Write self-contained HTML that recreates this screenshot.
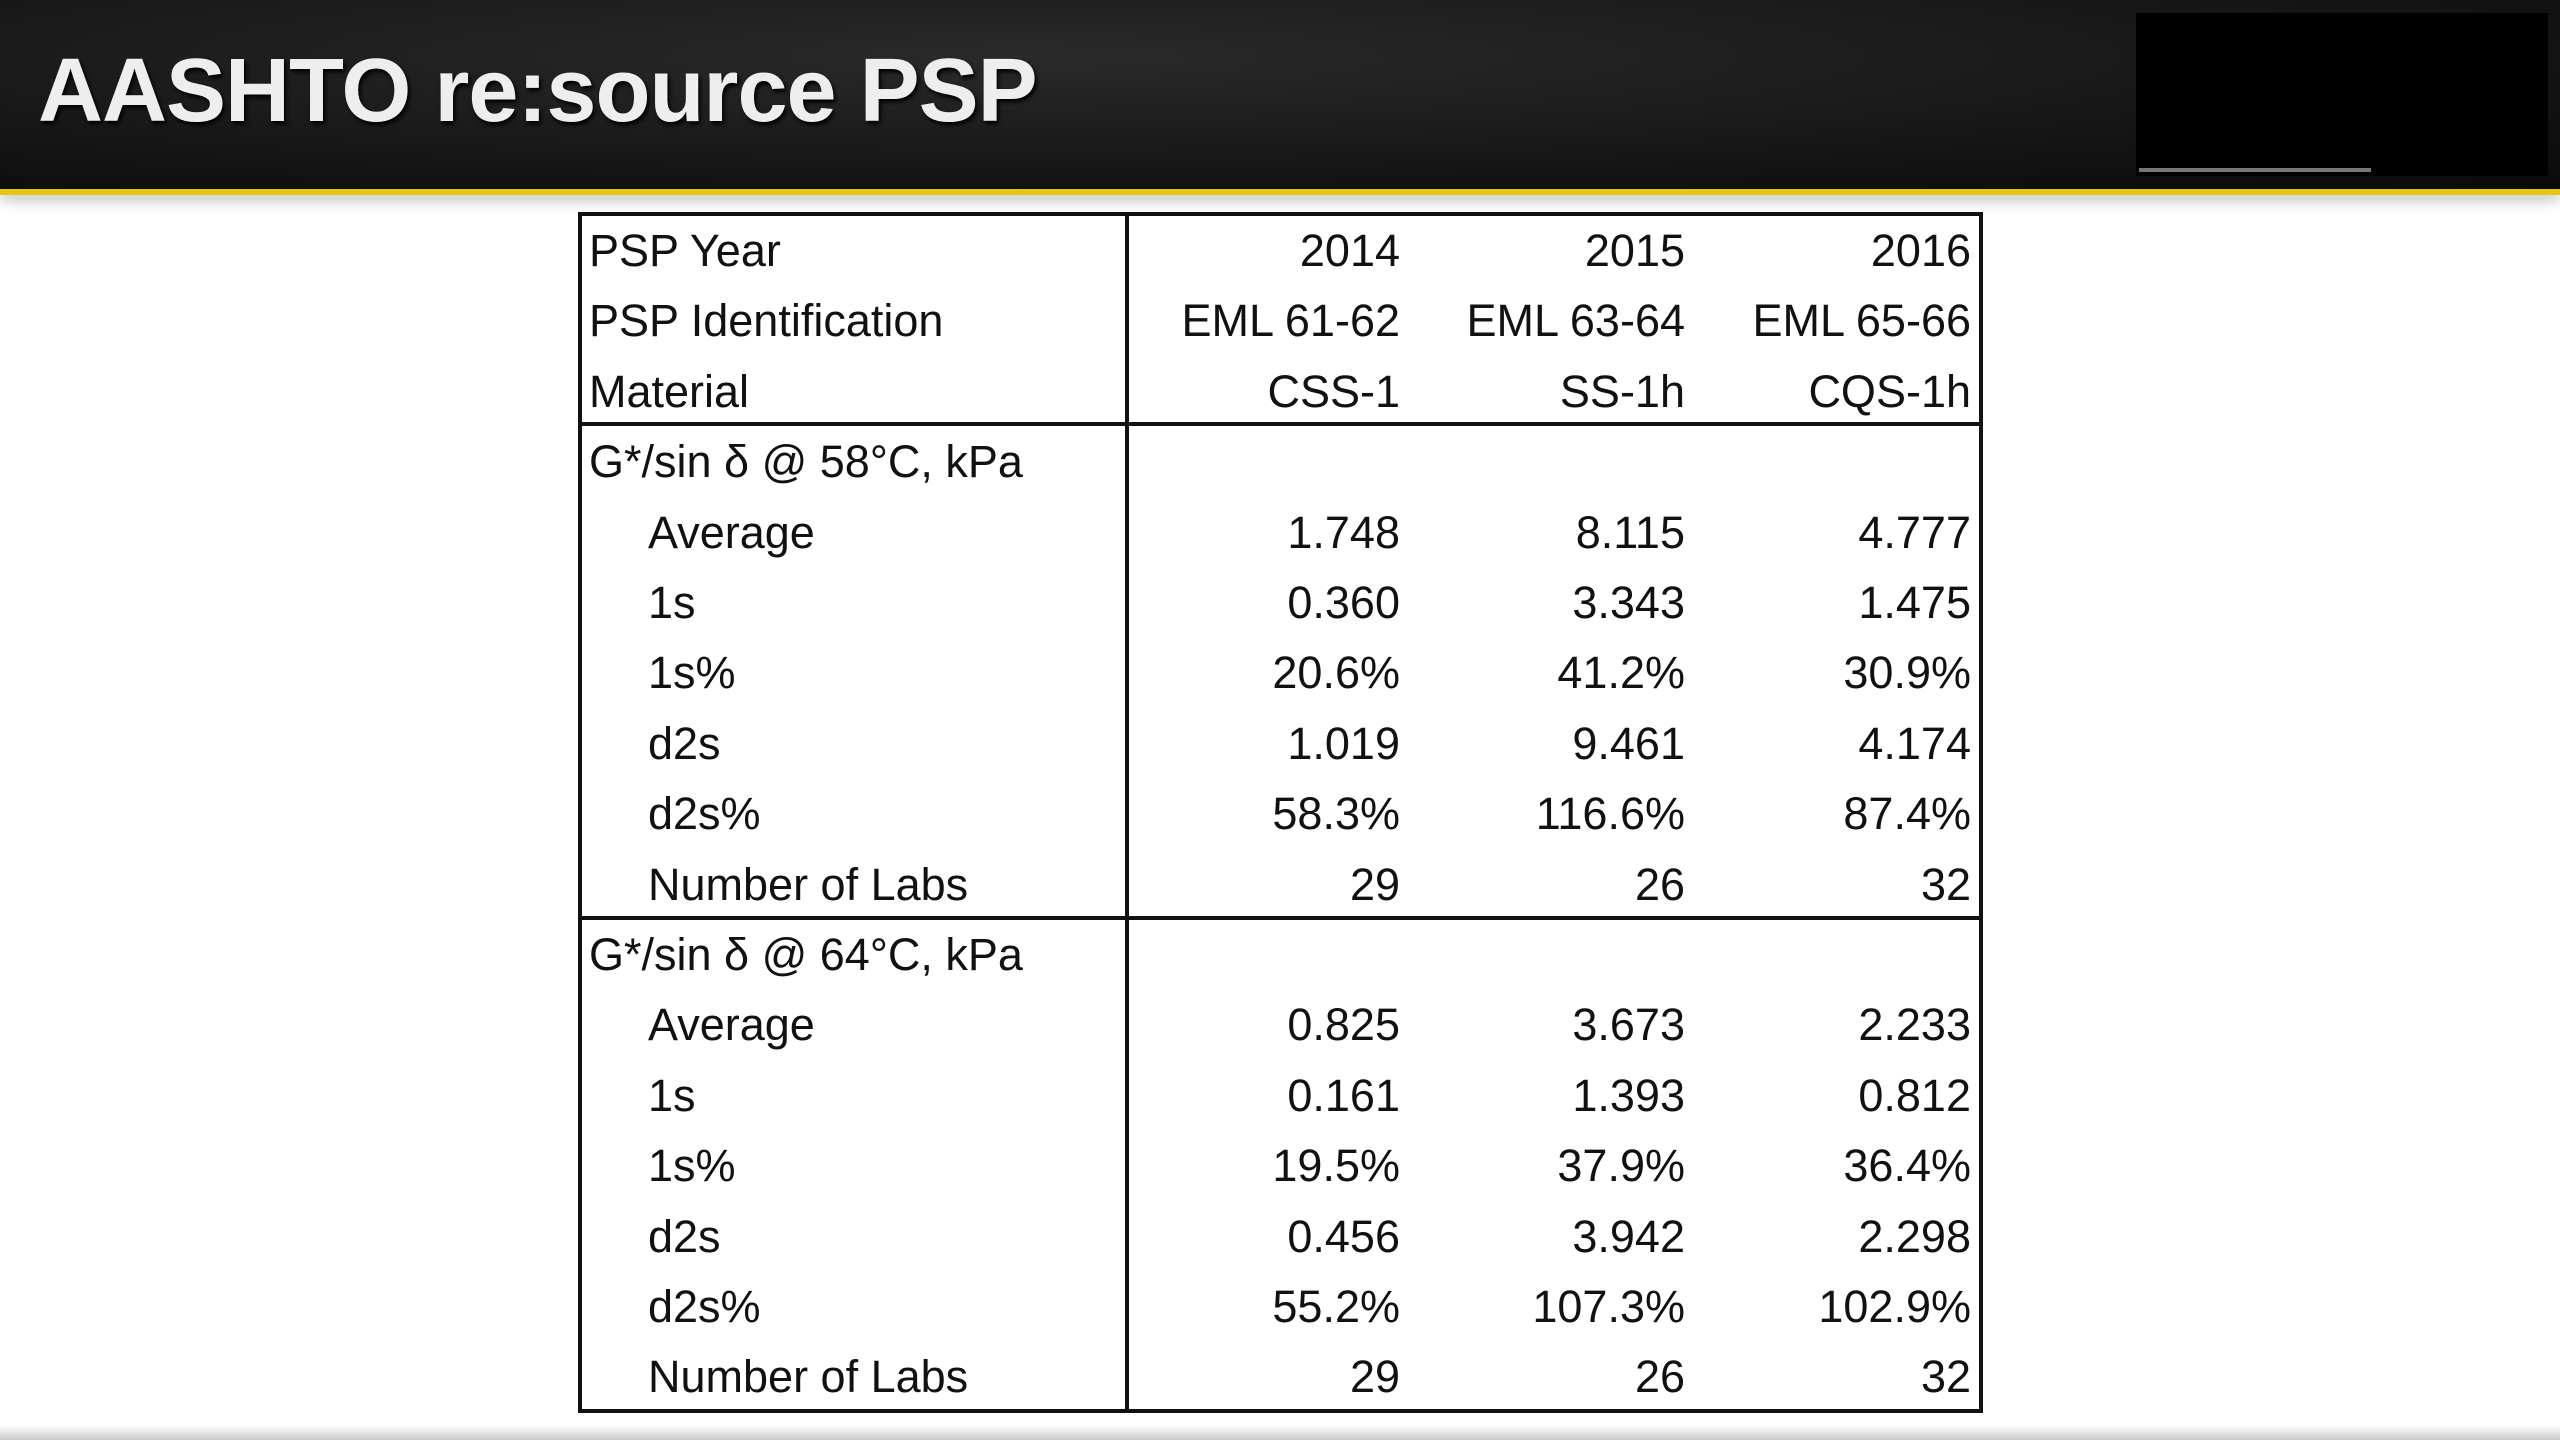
<!DOCTYPE html>
<html><head><meta charset="utf-8"><style>
*{margin:0;padding:0;box-sizing:border-box}
body{width:2560px;height:1440px;position:relative;overflow:hidden;background:#fff;font-family:"Liberation Sans",sans-serif}
#hdr{position:absolute;left:0;top:0;width:2560px;height:189px;background:radial-gradient(ellipse at 40% 30%,#2a2a2a,#131313 70%,#0b0b0b)}
#yl{position:absolute;left:0;top:189px;width:2560px;height:6px;background:#e8c413;box-shadow:0 3px 14px rgba(0,0,0,.45)}
#title{position:absolute;left:38px;top:40px;font-size:90px;font-weight:bold;color:#eee;letter-spacing:-1px;text-shadow:2px 3px 4px #000;white-space:nowrap}
#box{position:absolute;left:2136px;top:13px;width:412px;height:163px;background:#000}
#boxline{position:absolute;left:2139px;top:168px;width:232px;height:4px;background:#777}
#tbl{position:absolute;left:578px;top:212px;width:1405px;height:1201px;border:4px solid #111}
.v{position:absolute;background:#111}
.t{position:absolute;font-size:45px;color:#111;white-space:nowrap;line-height:50px}
.r{text-align:right;width:320px}
#foot{position:absolute;left:0;top:1425px;width:2560px;height:15px;background:linear-gradient(#fff,#ccc)}
</style></head><body>
<div id="hdr"></div>
<div id="yl"></div>
<div id="title">AASHTO re:source PSP</div>
<div id="box"></div>
<div id="boxline"></div>
<div id="tbl"></div>
<div class="v" style="left:1125px;top:212px;width:4px;height:1201px"></div>
<div class="v" style="left:578px;top:422px;width:1405px;height:4px"></div>
<div class="v" style="left:578px;top:916px;width:1405px;height:4px"></div>
<div id="foot"></div>
<script>
const labels=["PSP Year","PSP Identification","Material","G*/sin δ @ 58°C, kPa","Average","1s","1s%","d2s","d2s%","Number of Labs","G*/sin δ @ 64°C, kPa","Average","1s","1s%","d2s","d2s%","Number of Labs"];
const indent=[0,0,0,0,1,1,1,1,1,1,0,1,1,1,1,1,1];
const col2014=["2014","EML 61-62","CSS-1","","1.748","0.360","20.6%","1.019","58.3%","29","","0.825","0.161","19.5%","0.456","55.2%","29"];
const col2015=["2015","EML 63-64","SS-1h","","8.115","3.343","41.2%","9.461","116.6%","26","","3.673","1.393","37.9%","3.942","107.3%","26"];
const col2016=["2016","EML 65-66","CQS-1h","","4.777","1.475","30.9%","4.174","87.4%","32","","2.233","0.812","36.4%","2.298","102.9%","32"];
const cols=[col2014,col2015,col2016];
const rightEdges=[1400,1685,1971];
const y0=251,dy=70.4;
labels.forEach((l,i)=>{
  const y=y0+i*dy-25;
  const d=document.createElement('div');
  d.className='t';
  d.style.left=(indent[i]?648:589)+'px';d.style.top=y+'px';
  d.textContent=l;
  
  
  document.body.appendChild(d);
  cols.forEach((c,j)=>{
    if(!c[i])return;
    const e=document.createElement('div');
    e.className='t r';
    e.style.left=(rightEdges[j]-320)+'px';e.style.top=y+'px';
    e.textContent=c[i];
    
    
    document.body.appendChild(e);
  });
});
</script>
</body></html>
